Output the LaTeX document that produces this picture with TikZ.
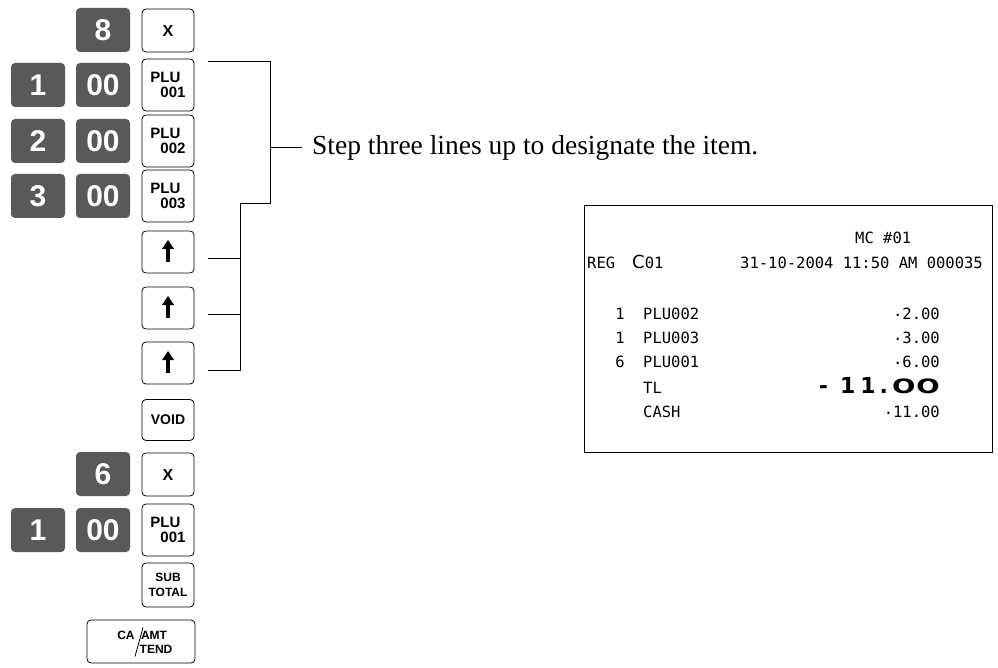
\documentclass[tikz,border=0pt]{standalone}
\usepackage{fontspec}
\setmainfont{Liberation Serif}
\setsansfont{Liberation Sans}
\setmonofont{DejaVu Sans Mono}
\newfontfamily\rcfont{DejaVu Sans Mono}
\newfontfamily\bigfont{DejaVu Sans}
\begin{document}
\begin{tikzpicture}[x=1pt,y=-1pt,
  dk/.style={fill=black!65,rounded corners=4pt,text=white,font=\sffamily\bfseries\fontsize{30}{30}\selectfont,minimum width=54pt,minimum height=44pt,inner sep=0pt},
  wk/.style={draw,line width=0.8pt,rounded corners=4pt,font=\sffamily\bfseries,minimum width=52pt,minimum height=43pt,inner sep=0pt,align=center},
  pk/.style={wk,minimum height=52pt,align=left,font=\sffamily\bfseries\fontsize{15}{15}\selectfont},
  ln/.style={line width=0.8pt},
  rc/.style={font=\rcfont\fontsize{15.5}{15}\selectfont,inner sep=0pt}]
\useasboundingbox (0,0) rectangle (998,668);
\newcommand{\plu}[1]{PLU\\\hspace*{10pt}#1}
\node[dk] (k8) at (103,30) {8};
\node[wk,font=\sffamily\bfseries\fontsize{16}{16}\selectfont] (x1) at (168,30.5) {X};
\node[dk] (a1) at (38,85) {1};
\node[dk] (a00) at (103,85) {00};
\node[pk] (p1) at (168,85) {\plu{001}};
\node[dk] (b2) at (38,141) {2};
\node[dk] (b00) at (103,141) {00};
\node[pk] (p2) at (168,141) {\plu{002}};
\node[dk] (c3) at (38,196) {3};
\node[dk] (c00) at (103,196) {00};
\node[pk] (p3) at (168,196) {\plu{003}};
\foreach \n/\y in {u1/252,u2/308,u3/363}{
  \node[wk,minimum height=42pt] (\n) at (168,\y) {};
  \fill ([xshift=-1.8pt,yshift=8pt]\n.center) rectangle ([xshift=1.8pt,yshift=-10pt]\n.center);
  \fill ([xshift=-6pt,yshift=3pt]\n.center) -- ([yshift=12pt]\n.center) -- ([xshift=6pt,yshift=3pt]\n.center) -- cycle;
}
\node[wk,minimum height=41pt,font=\sffamily\bfseries\fontsize{14}{14}\selectfont] (vd) at (168,420) {VOID};
\node[dk] (k6) at (103,474) {6};
\node[wk,font=\sffamily\bfseries\fontsize{16}{16}\selectfont] (x2) at (168,474.5) {X};
\node[dk] (d1) at (38,530) {1};
\node[dk] (d00) at (103,530) {00};
\node[pk] (p4) at (168,530) {\plu{001}};
\node[wk,minimum height=44pt,font=\sffamily\bfseries\fontsize{12}{15}\selectfont] (st) at (168,585) {SUB\\TOTAL};
\node[wk,minimum width=108pt,minimum height=43pt] (ca) at (141,641.5) {};
\node[font=\sffamily\bfseries\fontsize{12}{12}\selectfont,inner sep=0pt] (cat) at ([xshift=-15pt,yshift=6pt]ca.center) {CA};
\node[font=\sffamily\bfseries\fontsize{12}{12}\selectfont,inner sep=0pt] (amt) at ([xshift=13pt,yshift=6pt]ca.center) {AMT};
\node[font=\sffamily\bfseries\fontsize{12}{12}\selectfont,inner sep=0pt] (tnd) at ([xshift=15pt,yshift=-8pt]ca.center) {TEND};
\draw[line width=0.8pt] ([xshift=2pt,yshift=14pt]ca.center) -- ([xshift=-6pt,yshift=-15pt]ca.center);
\coordinate (t0) at (208,61);
\coordinate (t1) at (270,61);
\coordinate (t2) at (270,203);
\coordinate (t3) at (240,203);
\coordinate (t4) at (240,370);
\draw[ln] (t0) -- (t1) -- (t2) -- (t3) -- (t4) -- (208,370);
\draw[ln] (208,258) -- (240,258);
\draw[ln] (208,314) -- (240,314);
\coordinate (s0) at (271,147);
\node[anchor=west,inner sep=0pt,font=\fontsize{27.5}{28}\selectfont] (step) at (312,148) {Step three lines up to designate the item.};
\draw[ln] (s0) -- ++(31,0);
\node[draw,line width=0.8pt,minimum width=408pt,minimum height=247pt,inner sep=0pt] (rcpt) at (788,328.5) {};
\node[rc,anchor=base west] (mc) at (855,244) {MC \#01};
\node[rc,anchor=base west] (reg) at (587,269) {REG};
\node[rc,anchor=base west] (c01) at (632,269) {{\bigfont\fontsize{18}{18}\selectfont C}01};
\node[rc,anchor=base east] (dt) at (983,269) {31-10-2004 11:50 AM 000035};
\foreach \q/\nm/\am/\y in {1/PLU002/{\raisebox{3pt}{.}2.00}/319,1/PLU003/{\raisebox{3pt}{.}3.00}/343,6/PLU001/{\raisebox{3pt}{.}6.00}/367}{
  \node[rc,anchor=base east] at (625,\y) {\q};
  \node[rc,anchor=base west] at (643,\y) {\nm};
  \node[rc,anchor=base east] at (940,\y) {\am};
}
\node[rc,anchor=base west] (tl) at (643,393) {TL};
\node[anchor=base east,inner sep=0pt,font=\bigfont\bfseries\fontsize{22}{22}\selectfont] (tla) at (940,393) {-\hspace{12pt}1\hspace{5pt}1\hspace{4pt}.\hspace{4pt}\scalebox{1.25}[0.9]{O}\hspace{1pt}\scalebox{1.25}[0.9]{O}};
\node[rc,anchor=base west] (cash) at (643,417) {CASH};
\node[rc,anchor=base east] (casha) at (940,417) {\raisebox{3pt}{.}11.00};
\end{tikzpicture}
\end{document}
